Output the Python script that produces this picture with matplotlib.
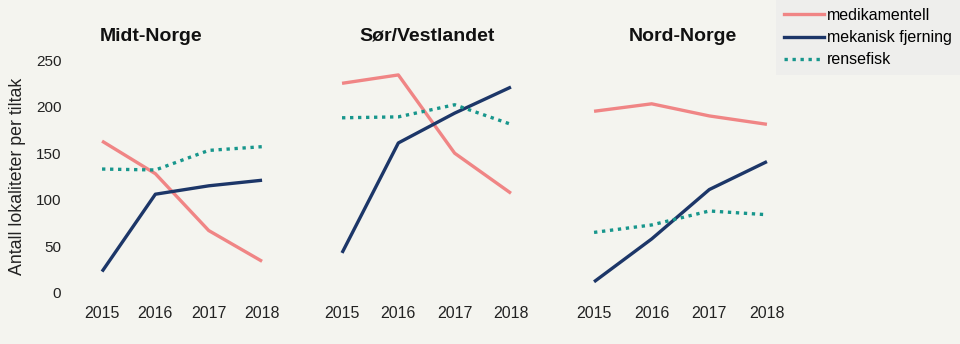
import matplotlib
matplotlib.use('Agg')
import matplotlib.pyplot as plt
from matplotlib.lines import Line2D

plt.rcParams['font.family'] = ['Liberation Sans', 'DejaVu Sans']

years = [2015, 2016, 2017, 2018]
regions = ['Midt-Norge', 'Sør/Vestlandet', 'Nord-Norge']

# antall lokaliteter per tiltak, per region
medikamentell = {
    'Midt-Norge': [163, 128, 67, 34],
    'Sør/Vestlandet': [225, 234, 150, 107],
    'Nord-Norge': [195, 203, 190, 181],
}
mekanisk = {
    'Midt-Norge': [23, 106, 115, 121],
    'Sør/Vestlandet': [43, 161, 193, 221],
    'Nord-Norge': [12, 58, 111, 141],
}
rensefisk = {
    'Midt-Norge': [133, 132, 153, 157],
    'Sør/Vestlandet': [188, 189, 202, 181],
    'Nord-Norge': [65, 73, 88, 84],
}

yticks = [0, 50, 100, 150, 200, 250]

bg = '#f4f4ef'
c_med = '#f08585'
c_mek = '#1c3668'
c_ren = '#17968c'

W, H = 960, 344
fig = plt.figure(figsize=(W / 100, H / 100), dpi=100, facecolor=bg)

# axes boxes in pixels: (left, width), plus title centre x
boxes = [(80.7, 202.7), (319.5, 214.0), (571.0, 219.0)]
title_x = [151, 427, 683]
top_px, bot_px = 50.7, 302.3

for i, (reg, (left, width)) in enumerate(zip(regions, boxes)):
    ax = fig.add_axes([left / W, 1 - bot_px / H, width / W, (bot_px - top_px) / H])
    ax.set_facecolor(bg)
    ax.plot(years, medikamentell[reg], color=c_med, lw=2.4, solid_capstyle='butt')
    ax.plot(years, mekanisk[reg], color=c_mek, lw=2.4, solid_capstyle='butt')
    ax.plot(years, rensefisk[reg], color=c_ren, lw=2.4, linestyle=(0, (1, 1.4)))
    ax.set_xlim(2014.6, 2018.4)
    ax.set_ylim(-10, 260)
    ax.set_xticks(years)
    ax.set_xticklabels([str(y) for y in years], fontsize=11.5, color='#222222')
    ax.set_yticks(yticks)
    if i == 0:
        ax.set_yticklabels([str(v) for v in yticks], fontsize=11, color='#222222')
        ax.set_ylabel('Antall lokaliteter per tiltak', fontsize=12.8, color='#222222',
                      labelpad=7)
        ax.tick_params(axis='y', pad=14)
    else:
        ax.set_yticklabels([])
    ax.tick_params(length=0)
    ax.tick_params(axis='x', pad=3)
    for s in ax.spines.values():
        s.set_visible(False)
    ax.set_title(reg, fontsize=14, fontweight='bold', color='#111111', pad=7,
                 x=(title_x[i] - left) / width)

handles = [
    Line2D([], [], color=c_med, lw=2.4),
    Line2D([], [], color=c_mek, lw=2.4),
    Line2D([], [], color=c_ren, lw=2.4, linestyle=(0, (1, 1.4))),
]
leg = fig.legend(handles, ['medikamentell', 'mekanisk fjerning', 'rensefisk'],
                 loc='upper right', bbox_to_anchor=(1.0, 1.0), fontsize=11.5,
                 frameon=True, fancybox=False, facecolor='#eeeeec', edgecolor='none',
                 framealpha=1, handlelength=2.5, handletextpad=0.2,
                 labelspacing=0.45, borderpad=0.5, borderaxespad=0)

fig.savefig('out.png', dpi=100, facecolor=bg)
